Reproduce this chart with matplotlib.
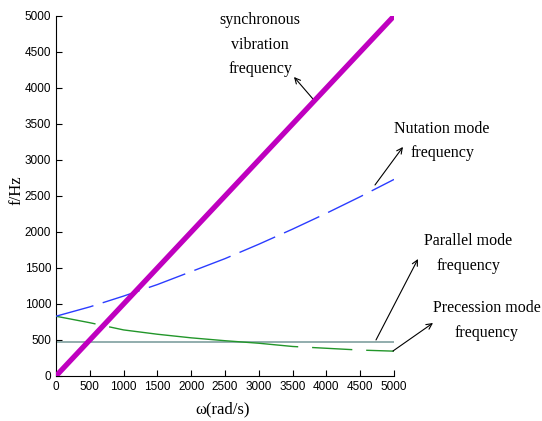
import numpy as np
import matplotlib.pyplot as plt

# rotor speed (rad/s) and mode frequencies (Hz)
omega = [0, 500, 1000, 1500, 2000, 2500, 3000, 3500, 4000, 4500, 5000]
synchronous = [0, 500, 1000, 1500, 2000, 2500, 3000, 3500, 4000, 4500, 5000]
nutation = [830, 960, 1110, 1270, 1450, 1630, 1830, 2040, 2260, 2490, 2730]
parallel = [475, 475, 475, 475, 475, 475, 475, 475, 475, 475, 475]
precession = [830, 740, 640, 580, 530, 490, 455, 410, 385, 360, 345]
ticks = [0, 500, 1000, 1500, 2000, 2500, 3000, 3500, 4000, 4500, 5000]

serif = 'Liberation Serif'
narrow = ['Liberation Sans Narrow', 'Liberation Sans', 'DejaVu Sans']

fig = plt.figure(figsize=(5.42, 4.21), dpi=100)
ax = fig.add_axes([0.1033, 0.1069, 0.6236, 0.8551])

ax.plot(omega, parallel, color='#7f9f9f', lw=1.2, zorder=2)
ax.plot(omega, precession, color='#22962a', lw=1.0, dashes=(29, 10, 137, 10), zorder=3)
ax.plot(omega, nutation, color='#2b3cff', lw=1.0, dashes=(28, 7), zorder=3)
ax.plot(omega, synchronous, color='#bf00bf', lw=3.8, solid_capstyle='round', zorder=4)

ax.set_xlim(0, 5000)
ax.set_ylim(0, 5000)
ax.set_xticks(ticks)
ax.set_yticks(ticks)
ax.spines['top'].set_visible(False)
ax.spines['right'].set_visible(False)
ax.tick_params(direction='in', length=4, width=0.8, labelsize=8.5)
for lab in ax.get_xticklabels() + ax.get_yticklabels():
    lab.set_family(narrow)

ax.set_xlabel('ω(rad/s)', family=serif, fontsize=12)
ax.set_ylabel('f/Hz', family=serif, fontsize=12)
ax.xaxis.set_label_coords(0.494, -0.07)
ax.yaxis.set_label_coords(-0.092, 0.517)

arrow = dict(arrowstyle='->', color='black', lw=0.8, shrinkA=0, shrinkB=0)
txt = dict(family=serif, fontsize=11.5, ha='center', va='center', linespacing=1.7,
           clip_on=False)

ax.text(3018, 4600, 'synchronous\nvibration\nfrequency', **txt)
ax.annotate('', xy=(3521, 4153), xytext=(3802, 3847), arrowprops=arrow)

ax.text(5710, 3265, 'Nutation mode\nfrequency', **txt)
ax.annotate('', xy=(5133, 3181), xytext=(4719, 2653), arrowprops=arrow,
            annotation_clip=False)

ax.text(6095, 1700, 'Parallel mode\nfrequency', **txt)
ax.annotate('', xy=(5355, 1625), xytext=(4734, 500), arrowprops=arrow,
            annotation_clip=False)

ax.text(6370, 770, 'Precession mode\nfrequency', **txt)
ax.annotate('', xy=(5577, 736), xytext=(4985, 347), arrowprops=arrow,
            annotation_clip=False)

fig.savefig('out.png', dpi=100)
